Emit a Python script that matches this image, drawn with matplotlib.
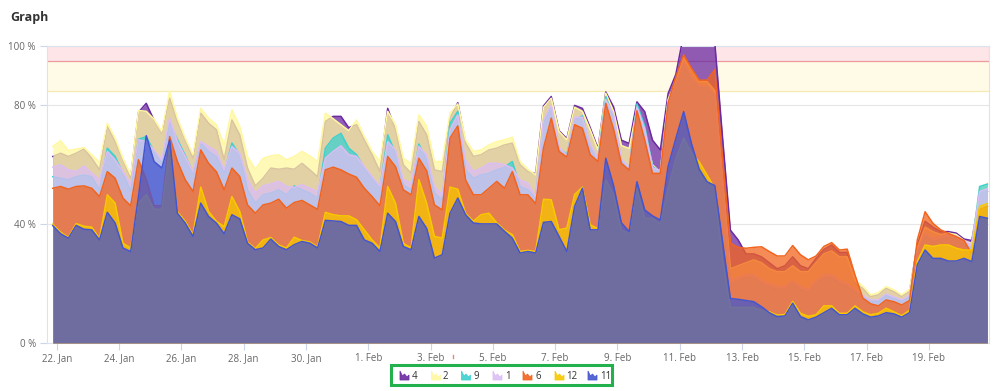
import datetime as dt
import matplotlib
matplotlib.use('Agg')
import matplotlib.pyplot as plt
import matplotlib.dates as mdates
from matplotlib.patches import Polygon, Rectangle
from matplotlib.ticker import FuncFormatter

plt.rcParams['font.family'] = ['Open Sans', 'DejaVu Sans']

# 6-hourly samples, 21 Jan 21:00 -> 20 Feb 21:00
start = dt.datetime(2021, 1, 21, 21, 0)
times = [start + dt.timedelta(hours=6 * k) for k in range(121)]

# series values in % (legend order: 4, 2, 9, 1, 6, 12, 11)
s4 = [62.8, 63.9, 62.8, 63.9, 65.3, 62.2, 58.3, 72.9, 67.8, 61.7,
      55.5, 77.7, 80.7, 75.0, 70.6, 82.4, 74.6, 68.4, 62.2, 77.4,
      74.0, 71.8, 61.7, 75.1, 70.1, 58.9, 52.9, 55.5, 58.9, 58.5,
      58.9, 58.5, 60.5, 58.3, 56.0, 74.6, 76.3, 76.3, 72.5, 73.5,
      68.4, 63.4, 57.7, 79.0, 71.8, 60.0, 57.2, 74.6, 70.1, 58.3,
      57.7, 75.7, 80.9, 67.3, 62.8, 63.4, 65.0, 65.6, 66.7, 67.3,
      60.0, 57.7, 57.0, 79.8, 83.0, 71.5, 68.8, 80.0, 79.0, 72.5,
      65.5, 84.5, 79.5, 68.3, 67.2, 81.2, 77.9, 68.3, 65.0, 84.0,
      90.5, 104, 104, 103, 102, 101, 69.0, 38.0, 34.7, 30.0,
      30.0, 29.0, 27.0, 25.0, 26.0, 29.0, 26.0, 25.0, 28.5, 31.5,
      33.0, 30.5, 30.5, 20.0, 18.4, 15.6, 16.2, 18.4, 17.3, 15.6,
      17.3, 33.0, 41.0, 39.0, 37.5, 37.5, 37.0, 35.0, 34.5, 50.0, 51.0]

s2 = [66.2, 68.1, 64.8, 65.3, 65.8, 63.4, 60.8, 74.0, 69.0, 62.2,
      56.6, 78.3, 78.0, 75.4, 71.2, 84.7, 75.7, 69.0, 63.4, 79.0,
      75.7, 73.5, 66.7, 78.5, 72.9, 62.8, 58.5, 62.2, 63.0, 63.4,
      61.7, 62.8, 64.5, 63.0, 61.1, 77.4, 75.5, 73.5, 71.5, 75.1,
      69.5, 64.5, 61.1, 78.0, 73.5, 62.2, 60.5, 76.8, 73.0, 61.1,
      61.1, 77.4, 80.5, 68.4, 64.5, 65.0, 66.7, 67.8, 68.4, 69.3,
      61.1, 58.5, 56.6, 79.3, 82.4, 71.2, 68.4, 79.4, 78.0, 71.8,
      65.0, 84.1, 78.0, 66.5, 65.5, 79.0, 71.0, 60.0, 57.5, 82.0,
      88.0, 96.0, 92.0, 88.0, 88.0, 85.0, 55.0, 25.0, 26.0, 27.0,
      28.0, 27.0, 25.0, 24.0, 24.0, 26.0, 24.0, 24.0, 27.0, 30.0,
      31.0, 29.0, 29.0, 21.0, 19.2, 16.2, 17.0, 19.0, 17.9, 16.2,
      18.1, 32.0, 39.0, 37.5, 36.5, 37.0, 36.5, 34.5, 33.5, 52.0, 53.8]

s9 = [56.0, 55.5, 55.0, 56.0, 56.6, 56.0, 51.6, 65.6, 62.8, 57.2,
      51.0, 68.6, 69.5, 64.5, 60.5, 74.0, 68.5, 63.2, 57.2, 67.3,
      64.5, 62.8, 57.2, 67.3, 63.4, 51.6, 47.1, 49.9, 50.5, 51.6,
      49.9, 52.9, 51.6, 50.5, 48.8, 65.6, 69.0, 70.6, 65.6, 63.4,
      58.9, 55.5, 52.1, 70.1, 63.9, 53.3, 51.6, 67.0, 61.7, 50.5,
      48.2, 74.0, 78.0, 58.3, 55.5, 56.6, 57.2, 58.3, 59.2, 61.1,
      52.7, 51.6, 48.8, 74.0, 79.0, 65.5, 63.5, 75.0, 76.5, 66.0,
      62.0, 83.0, 76.0, 61.5, 58.5, 80.5, 73.0, 59.5, 57.5, 81.0,
      87.0, 94.0, 89.0, 86.0, 86.0, 83.0, 53.0, 20.0, 21.0, 22.0,
      22.0, 20.0, 19.0, 18.0, 18.0, 20.0, 18.0, 17.0, 20.0, 22.0,
      22.0, 20.0, 19.0, 17.0, 15.5, 14.0, 14.0, 16.0, 15.0, 14.0,
      15.5, 30.0, 36.0, 34.0, 35.0, 35.5, 35.0, 33.0, 32.0, 52.7, 53.5]

s1 = [59.2, 60.0, 58.3, 57.7, 59.6, 57.2, 55.0, 64.5, 61.7, 57.7,
      53.5, 68.4, 67.8, 65.0, 61.7, 75.7, 67.8, 62.8, 57.7, 67.8,
      66.2, 64.5, 58.3, 66.2, 63.9, 55.0, 50.5, 52.9, 53.6, 54.4,
      52.7, 52.4, 53.3, 52.1, 51.0, 62.2, 64.5, 66.4, 63.4, 62.8,
      59.4, 56.0, 52.7, 67.8, 65.0, 55.0, 53.8, 66.2, 63.4, 52.7,
      49.9, 71.8, 76.8, 61.7, 57.7, 58.9, 60.5, 60.5, 60.0, 58.9,
      54.9, 53.8, 49.3, 75.0, 80.0, 66.0, 63.0, 76.0, 76.0, 67.0,
      62.0, 82.0, 77.0, 62.0, 59.0, 79.5, 72.0, 59.0, 58.0, 81.0,
      87.0, 94.5, 89.5, 86.5, 86.5, 84.0, 54.0, 21.0, 22.0, 23.0,
      23.0, 21.0, 20.0, 19.0, 19.0, 21.0, 19.0, 18.0, 21.0, 23.0,
      23.0, 21.0, 20.0, 18.0, 16.0, 14.5, 14.5, 16.5, 15.5, 14.5,
      16.0, 31.0, 37.0, 35.0, 36.0, 36.5, 36.0, 34.5, 33.0, 51.0, 52.0]

s6 = [52.1, 52.7, 51.8, 52.7, 52.9, 52.1, 49.3, 57.7, 55.5, 48.8,
      46.2, 61.7, 55.0, 46.2, 46.2, 69.5, 61.1, 55.0, 51.0, 65.0,
      60.5, 57.7, 51.6, 58.9, 56.1, 46.5, 43.7, 46.5, 47.1, 48.4,
      45.4, 47.3, 48.0, 46.5, 45.0, 58.3, 59.2, 58.3, 56.9, 55.8,
      52.1, 49.3, 46.2, 62.8, 59.4, 51.6, 49.9, 62.2, 58.0, 46.5,
      44.8, 69.0, 73.1, 54.9, 49.9, 49.9, 52.1, 54.4, 52.1, 57.7,
      49.9, 49.9, 46.9, 65.6, 75.7, 64.5, 62.6, 73.5, 72.3, 63.4,
      61.1, 80.7, 72.0, 60.5, 58.2, 78.2, 68.3, 57.1, 57.1, 80.7,
      89.7, 97.0, 92.5, 88.5, 88.5, 92.0, 62.0, 33.6, 32.2, 31.9,
      32.2, 32.4, 30.8, 29.3, 29.3, 32.8, 29.7, 28.0, 29.3, 32.5,
      33.8, 31.3, 31.6, 22.9, 15.1, 13.2, 12.5, 14.5, 13.9, 12.8,
      14.3, 34.7, 44.2, 40.3, 38.1, 36.9, 35.8, 34.5, 30.0, 45.0, 46.0]

s12 = [40.0, 37.3, 35.6, 40.2, 39.3, 39.0, 35.2, 49.9, 47.1, 33.6,
       32.0, 47.0, 50.0, 45.0, 45.0, 66.0, 44.2, 41.0, 36.5, 52.5,
       44.3, 41.0, 39.2, 49.3, 44.3, 34.0, 31.8, 34.7, 35.5, 33.0,
       32.0, 35.6, 34.5, 34.0, 32.4, 44.0, 43.2, 42.8, 42.8, 41.5,
       38.1, 34.7, 32.0, 52.7, 47.1, 33.6, 32.0, 55.0, 47.1, 35.9,
       35.3, 52.5, 51.8, 43.7, 41.0, 43.2, 43.7, 40.5, 38.0, 36.5,
       30.8, 31.2, 30.8, 48.4, 48.2, 38.1, 38.7, 50.0, 52.5, 39.8,
       38.5, 55.0, 50.0, 38.0, 37.0, 52.0, 42.0, 42.0, 40.0, 52.0,
       62.0, 69.0, 64.0, 61.0, 56.6, 52.0, 28.0, 12.0, 12.0, 12.0,
       12.0, 11.0, 10.5, 9.4, 9.6, 14.0, 10.0, 9.0, 9.5, 12.5,
       12.5, 10.0, 10.0, 12.5, 10.5, 9.5, 10.0, 11.7, 10.5, 9.2,
       11.0, 27.5, 33.0, 32.5, 33.0, 33.0, 31.9, 31.3, 31.3, 46.0, 47.0]

s11 = [39.5, 36.8, 35.3, 39.6, 38.3, 38.1, 34.7, 44.0, 40.4, 32.0,
       30.8, 49.3, 69.8, 61.1, 58.9, 68.4, 43.7, 40.4, 35.9, 47.1,
       42.6, 40.4, 36.8, 43.2, 41.8, 33.6, 31.4, 32.0, 35.0, 32.5,
       31.4, 33.1, 34.2, 33.6, 32.0, 41.3, 41.1, 40.9, 39.6, 39.6,
       34.7, 33.6, 30.8, 43.7, 40.9, 32.5, 31.4, 42.6, 38.6, 28.6,
       29.7, 43.7, 48.8, 43.2, 40.4, 40.1, 40.1, 40.1, 37.6, 35.3,
       30.3, 30.8, 30.3, 40.6, 40.9, 35.9, 30.8, 46.0, 52.1, 38.1,
       38.1, 62.2, 53.0, 40.5, 37.5, 54.3, 44.8, 42.8, 41.4, 59.4,
       68.9, 77.9, 67.2, 58.5, 54.3, 53.0, 34.0, 15.0, 14.7, 14.3,
       13.9, 12.2, 10.2, 8.9, 9.1, 13.4, 8.9, 7.8, 8.7, 10.2,
       11.7, 9.5, 9.5, 11.7, 9.8, 8.7, 9.1, 10.2, 9.8, 8.7,
       10.2, 26.3, 31.3, 28.5, 28.5, 27.6, 27.6, 28.5, 27.4, 42.6, 42.0]

names = ['4', '2', '9', '1', '6', '12', '11']
values = [s4, s2, s9, s1, s6, s12, s11]
colors = ['#6c2aa0', '#fff8a0', '#3dd0d0', '#dcbef5', '#f2641e', '#f8c800', '#4356d0']

fig = plt.figure(figsize=(9.99, 3.91), dpi=100)
ax = fig.add_axes([47 / 999, 48 / 391, (988.5 - 47) / 999, (343 - 46) / 391])

# plot bands
ax.axhspan(95, 100, color='#fde5e8', lw=0, zorder=0)
ax.axhspan(85, 95, color='#fffbe6', lw=0, zorder=0)
ax.axhline(95, color='#ec9a9a', lw=0.9, zorder=1)
ax.axhline(85, color='#f6eab0', lw=0.9, zorder=1)

# overlapping areas, drawn in legend order
for k, (vals, c) in enumerate(zip(values, colors)):
    ax.fill_between(times, 0, vals, color=c, alpha=0.75, lw=0, zorder=2 + 2 * k)
    ax.plot(times, vals, color=c, lw=1.1, zorder=3 + 2 * k)

day0 = dt.datetime(2021, 1, 22)
ax.set_xlim(mdates.date2num(day0) - 0.311, mdates.date2num(day0) + 29.91)
ax.set_ylim(0, 100)

ax.set_yticks([0, 40, 80, 100])
ax.set_yticklabels(['0 %', '40 %', '80 %', '100 %'])
ax.yaxis.grid(True, color='#e6e6e6', lw=0.8)
ax.set_axisbelow(True)

xt = [day0 + dt.timedelta(days=2 * k) for k in range(15)]
ax.set_xticks(mdates.date2num(xt))
ax.xaxis.set_major_formatter(FuncFormatter(
    lambda x, pos: f"{mdates.num2date(x).day}. {mdates.num2date(x):%b}"))

ax.tick_params(axis='both', length=5, width=0.8, color='#ccd6eb',
               labelcolor='#666666', labelsize=7)
ax.tick_params(axis='x', pad=2)
ax.tick_params(axis='y', pad=3)
for sp in ax.spines.values():
    sp.set_color('#dde3ee')
    sp.set_linewidth(0.8)

fig.text(10 / 999, 1 - 17 / 391, 'Graph', fontsize=9, fontweight='bold',
         color='#333333', va='center')

# legend drawn in pixel coordinates
lax = fig.add_axes([0, 0, 1, 1])
lax.set_xlim(0, 999)
lax.set_ylim(391, 0)
lax.axis('off')
lax.add_patch(Rectangle((391, 365), 221, 20, fill=False, ec='#22b14c', lw=2.2))
lax.plot([453, 453], [355, 358], color='#f08080', lw=1)
icon_x = [400, 431.5, 461.5, 493, 523, 555, 588]
label_x = [412, 443, 474, 505.5, 535.5, 566.5, 600]
shape = [(0, 0), (0, -9), (2.5, -4), (4.5, -6), (7, -3), (9, -5), (9, 0)]
for name, c, ix, tx in zip(names, colors, icon_x, label_x):
    pts = [(ix + px, 380 + py) for px, py in shape]
    lax.add_patch(Polygon(pts, closed=True, fc=c, ec=c, lw=0.6, alpha=0.9))
    lax.text(tx, 376.5, name, fontsize=7, color='#333333', va='center', ha='left')

fig.savefig('out.png', dpi=100)
